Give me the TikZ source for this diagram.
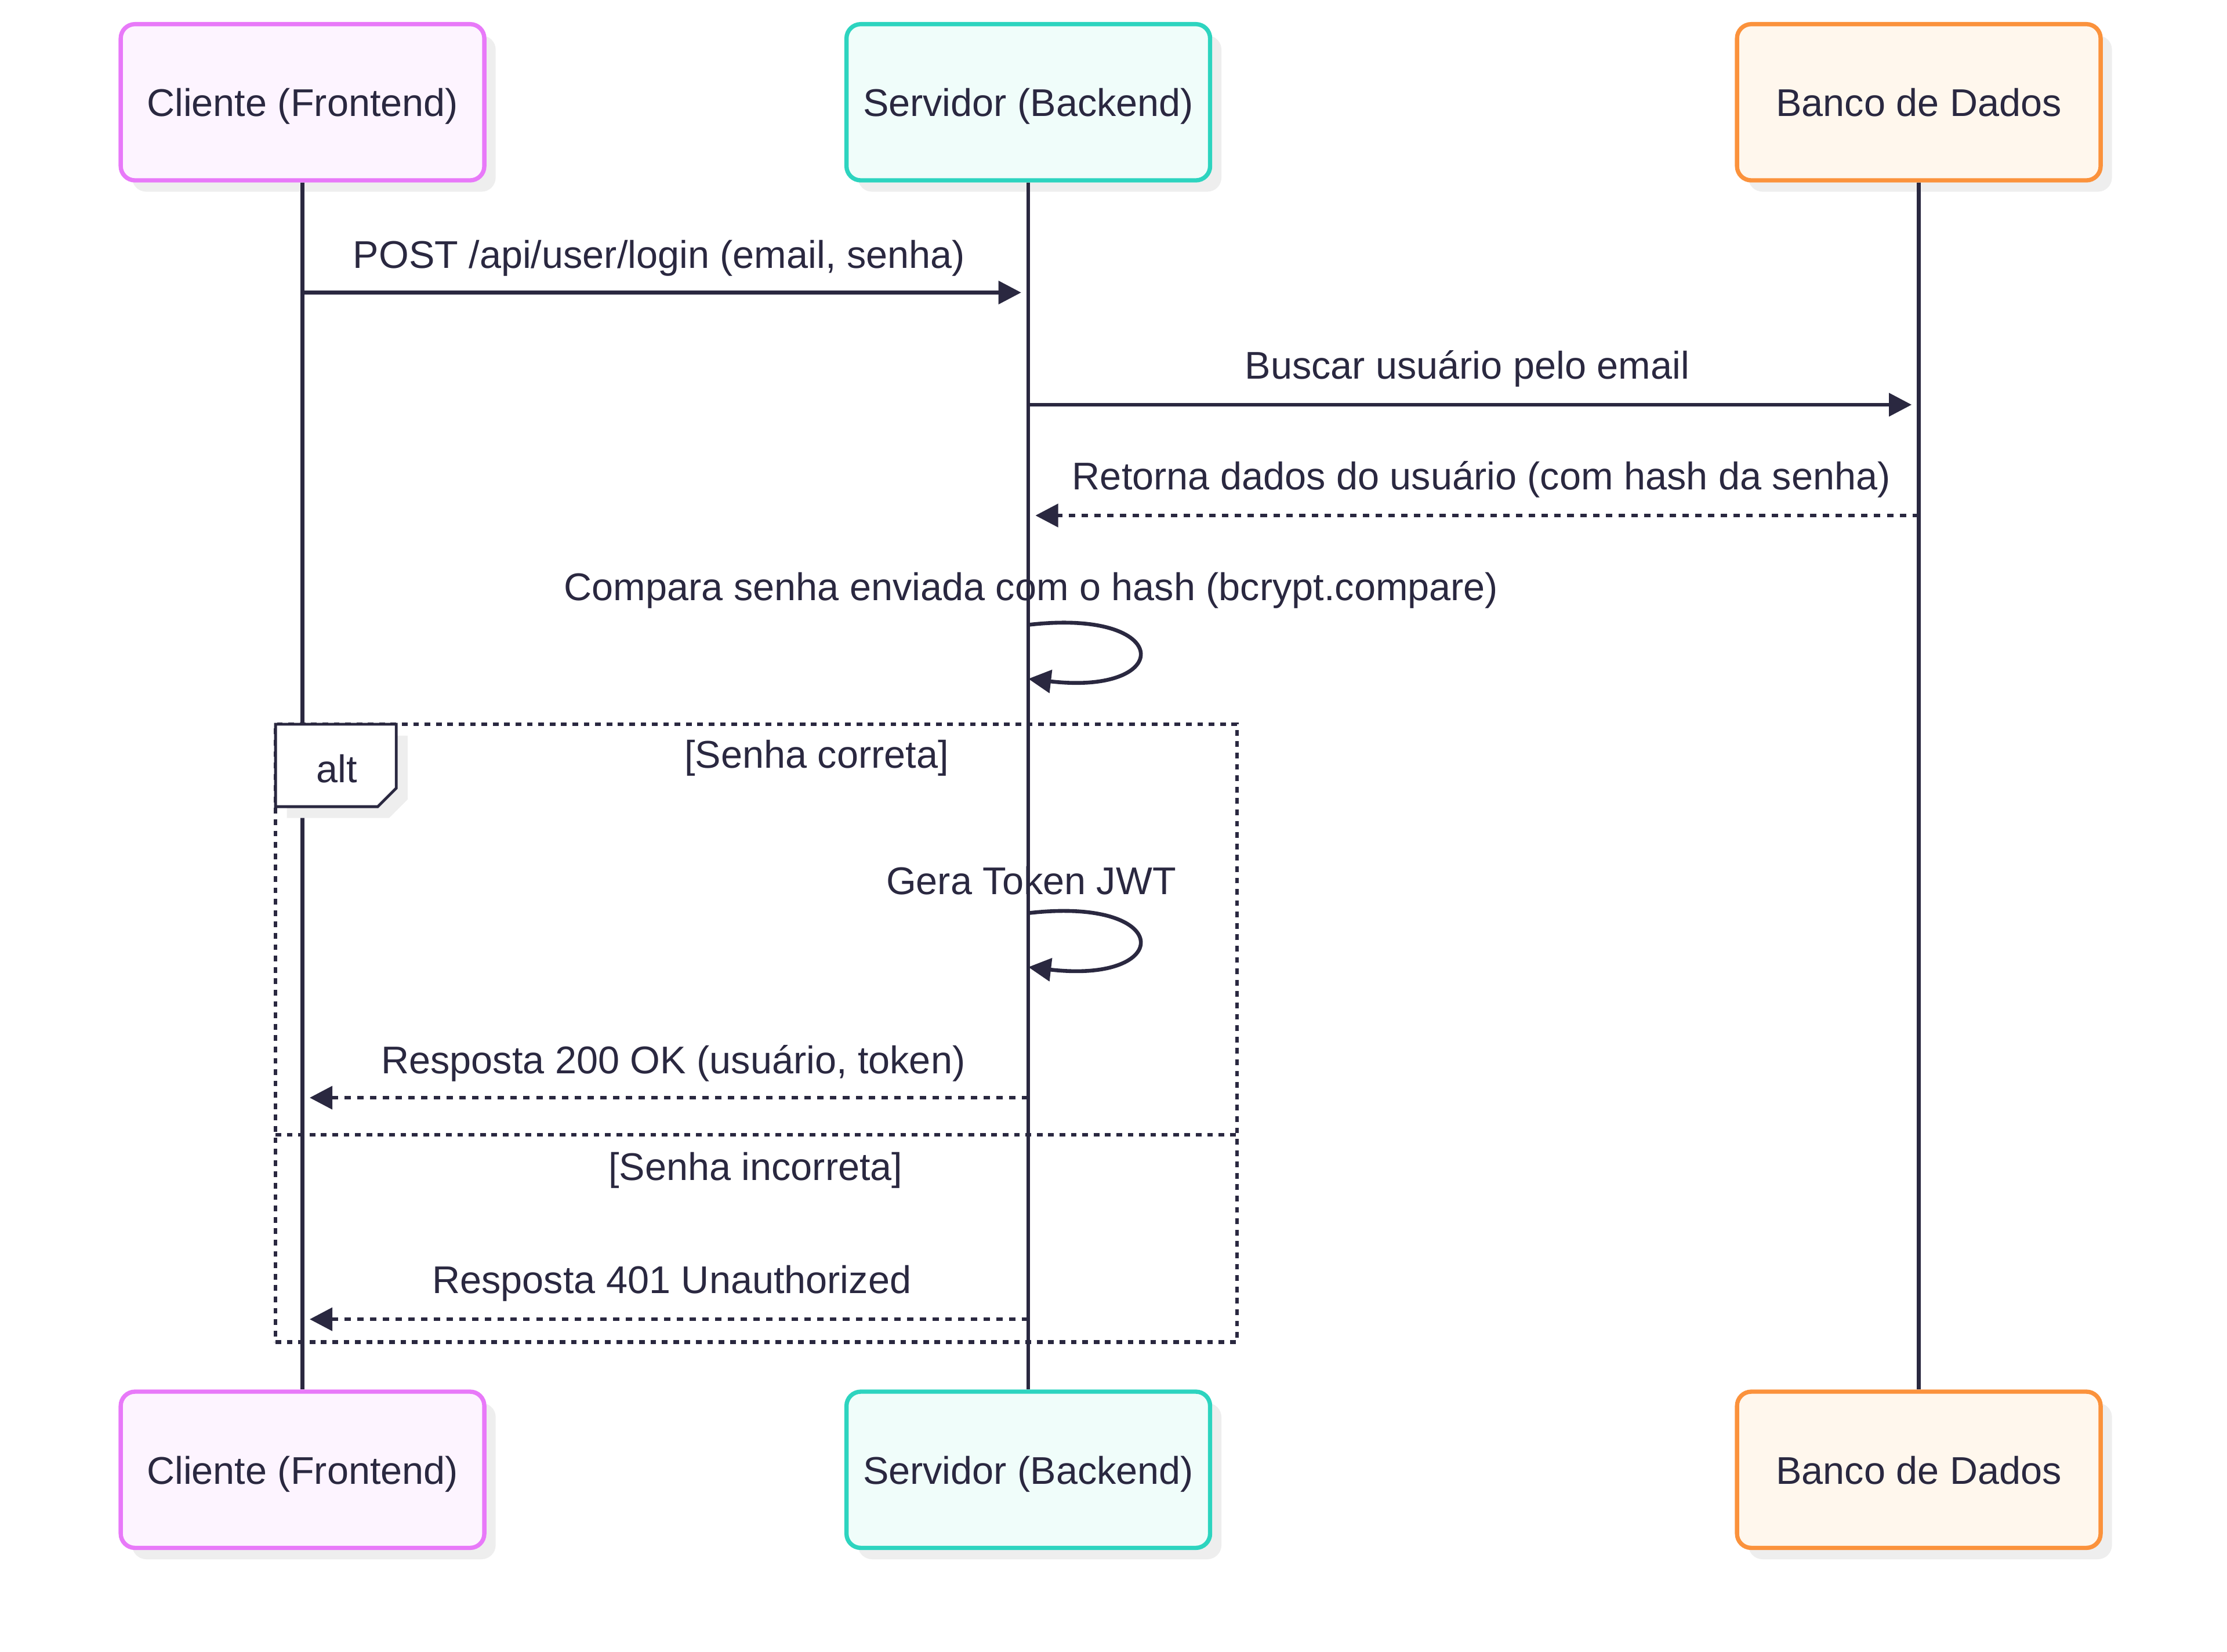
\documentclass[tikz,border=0pt]{standalone}
\usepackage{fontspec}
\setmainfont{Liberation Sans}
\usetikzlibrary{arrows.meta,shadows}
\definecolor{ink}{HTML}{2A2840}
\definecolor{pinkB}{HTML}{E879F9}
\definecolor{pinkF}{HTML}{FDF4FF}
\definecolor{tealB}{HTML}{2DD4BF}
\definecolor{tealF}{HTML}{F0FDFA}
\definecolor{orgB}{HTML}{FB923C}
\definecolor{orgF}{HTML}{FFF7ED}
\definecolor{shd}{HTML}{EEEEEE}
\tikzset{
  txt/.style={font=\fontsize{27.2}{32}\selectfont, text=ink, inner sep=0pt,
    text height=19.9pt, text depth=0pt},
  actor/.style={txt, draw, line width=3pt, rounded corners=10pt,
    minimum width=256pt, minimum height=110pt,
    drop shadow={shadow xshift=8pt, shadow yshift=-8pt, fill=shd, opacity=1}},
  life/.style={draw=ink, line width=2.7pt},
  msg/.style={draw=ink, line width=2.7pt, -{Triangle[length=16pt,width=16pt]}},
  reply/.style={msg, dash pattern=on 4.5pt off 4.5pt},
  frame/.style={draw=ink, line width=2.6pt, dash pattern=on 4pt off 4pt},
}
\begin{document}
\begin{tikzpicture}[x=1pt,y=-1pt]
\useasboundingbox[fill=white] (0,0) rectangle (1568,1163);

% participants
\node[actor, draw=pinkB, fill=pinkF] (c1) at (213,72) {Cliente (Frontend)};
\node[actor, draw=tealB, fill=tealF] (s1) at (724,72) {Servidor (Backend)};
\node[actor, draw=orgB, fill=orgF] (b1) at (1351,72) {Banco de Dados};
\node[actor, draw=pinkB, fill=pinkF] (c2) at (213,1035) {Cliente (Frontend)};
\node[actor, draw=tealB, fill=tealF] (s2) at (724,1035) {Servidor (Backend)};
\node[actor, draw=orgB, fill=orgF] (b2) at (1351,1035) {Banco de Dados};

% alt frame
\node[frame, minimum width=677pt, minimum height=435pt, inner sep=0pt] (alt) at (532.5,727.5) {};
\coordinate (dl) at (194,799);
\coordinate (dr) at (871,799);
\draw[frame] (dl) -- (dr);
\node[txt] (g1) at (575,531) {[Senha correta]};
\node[txt] (g2) at (532,821) {[Senha incorreta]};

% message labels
\node[txt] (t1) at (464,179) {POST /api/user/login (email, senha)};
\node[txt] (t2) at (1033,257) {Buscar usuário pelo email};
\node[txt] (t3) at (1043,335) {Retorna dados do usuário (com hash da senha)};
\node[txt] (t4) at (726,413) {Compara senha enviada com o hash (bcrypt.compare)};
\node[txt] (t5) at (726,620) {Gera Token JWT};
\node[txt] (t6) at (474,746) {Resposta 200 OK (usuário, token)};
\node[txt] (t7) at (473,901) {Resposta 401 Unauthorized};

% lifelines
\draw[life] (c1.south) -- (c2.north);
\draw[life] (s1.south) -- (s2.north);
\draw[life] (b1.south) -- (b2.north);

% alt label box
\fill[shd] (202,518) -- (287,518) -- (287,563) -- (274,576) -- (202,576) -- cycle;
\draw[fill=white, draw=ink, line width=2pt] (194,510) -- (279,510) -- (279,555) -- (266,568) -- (194,568) -- cycle;
\node[txt] (altlbl) at (237,541) {alt};

% message anchors
\coordinate (m1a) at (c1 |- 0,206);
\coordinate (m1b) at (s1 |- 0,206);
\coordinate (m2a) at (s1 |- 0,285);
\coordinate (m2b) at (b1 |- 0,285);
\coordinate (m3a) at (b1 |- 0,363);
\coordinate (m3b) at (s1 |- 0,363);
\coordinate (m4a) at (s1 |- 0,440);
\coordinate (m4b) at (s1 |- 0,478);
\coordinate (m5a) at (s1 |- 0,643);
\coordinate (m5b) at (s1 |- 0,681);
\coordinate (m6a) at (s1 |- 0,773);
\coordinate (m6b) at (c1 |- 0,773);
\coordinate (m7a) at (s1 |- 0,929);
\coordinate (m7b) at (c1 |- 0,929);

\draw[msg] (m1a) -- ([xshift=-5pt]m1b);
\draw[msg] (m2a) -- ([xshift=-5pt]m2b);
\draw[reply] (m3a) -- ([xshift=5pt]m3b);
\draw[msg] (m4a) .. controls (827,428) and (827,490) .. (m4b);
\draw[msg] (m5a) .. controls (827,631) and (827,693) .. (m5b);
\draw[reply] (m6a) -- ([xshift=5pt]m6b);
\draw[reply] (m7a) -- ([xshift=5pt]m7b);
\end{tikzpicture}
\end{document}
